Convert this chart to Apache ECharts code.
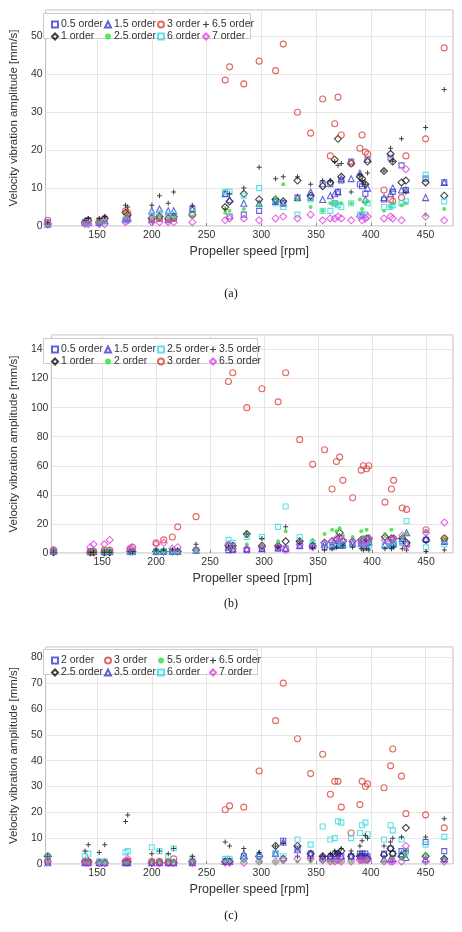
<!DOCTYPE html>
<html><head><meta charset="utf-8">
<script src="https://cdn.jsdelivr.net/npm/echarts@6/dist/echarts.min.js"></script>
<style>html,body{margin:0;background:#fff}#c{width:462px;height:932px}</style>
</head><body><div id="c"></div>
<script>
// propeller speeds shared by all panels [rpm]
const speeds = [105,139,142,152,157,176,178,200,207,215,220,237,267,271,284,298,313,320,333,345,356,363,367,370,373,382,390,392,395,397,412,418,420,428,432,450,467];

// panel (a)
const a_o05 = [1,1,1.5,1,1.5,1.5,2,1.5,2,1.5,2,4.5,8.5,2.5,3,4,6.5,6,7.5,7.5,11,11,6,9,12,17,11,10.5,8.5,17.5,7,18,9,16,9.5,12.5,11.5];
const a_o1 = [0.5,1,1.5,1,2,3.5,3,2,2.5,2,2.5,3,5,6.5,8.5,7,7,6.5,12,8,10.5,11.5,17.5,23,13,16.5,13,12.5,11,17,14.5,19,17,11.5,12,11.5,8];
const a_o15 = [0.5,1,1,1,1.5,2,2,4,4.5,4,4,4.5,8.5,7,6,6,6.5,6,7.5,9,7,8,8.5,9,12.5,12.5,14,3,7,10,7.5,8.5,10,9.5,9.5,7.5,11.5];
const a_o25 = [0.5,0.5,1,1,1,2.5,3,1.5,2,1.5,2,2.5,3.5,4,4.5,5.5,7.5,11,7,5,4,6,6,6,6,6,7,4.5,6,6.5,4,5,6,5.5,6,3,4.5];
const a_o3 = [1.5,1,1.5,1.5,2,4,3.5,2,2,2,2,3,38.5,42,37.5,43.5,41,48,30,24.5,33.5,18.5,27,34,24,16.5,20.5,24,19.5,19,9.5,7,6.5,7.5,18.5,23,47];
const a_o6 = [0.5,1,1,1,1,1.5,1.5,3,3.5,3,3,3.5,9,9,8,10,6,5,3,7,4,4,6,5.5,5,6,3,3,3,6,5,5,5.5,6,6.5,13.5,6.5];
const a_o65 = [1,1.5,2,2,2.5,5.5,5,5.5,8,6,9,5.5,4.5,8.5,10,15.5,12.5,13,13,11,12,12,17,16,16.5,9,13.5,12,11,14,14.5,20.5,17,23,9,26,36];
const a_o7 = [0.5,0.5,0.5,0.5,0.5,1,1.5,1,1,1,1,1,1.5,2,2,1.5,2,2.5,2,3,1.5,2,2,2.5,2,1.5,2.5,1.5,2,2.5,2,2.5,2,1.5,15,2.5,1.5];

// panel (b)
const b_o05 = [1,0.5,0.5,0.5,0.5,1,1,1,1,1,1,2,2,2,2,3,3,3,5,5,4,4,5,5,5,6,6,5,6,7,5,5,6,8,6,9,8];
const b_o1 = [0.5,0.5,0.5,0.5,0.5,1,1,1,1,1,1,2,5,5,13,5,5,8,8,5,7,8,9,14,8,8,9,9,10,10,11,10,10,10,7,9,10];
const b_o15 = [1,1,1,1,1,1,1,1,1,1,1,2,4,3,3,3,4,3,5,5,6,6,7,7,6,7,7,7,8,8,6,6,7,10,14,10,8];
const b_o2 = [1,1,1,1,1,2,2,2,2,2,2,2,4,4,6,5,8,15,8,9,13,16,15,17,12,11,15,11,16,8,13,16,9,11,13,15,10];
const b_o25 = [1,1,1,1,1,1,1,1,1,1,1,2,9,7,11,11,18,32,11,7,6,5,6,7,6,6,6,5,4,5,5,5,6,7,22,4,6];
const b_o3 = [2,1,1,2,2,3,4,7,9,11,18,25,118,124,100,113,104,124,78,61,71,44,63,66,50,38,57,60,58,60,35,44,50,31,30,16,10];
const b_o35 = [0.5,0.5,0.5,0.5,0.5,1,1,2,2,2,2,6,4,5,13,10,4,18,8,4,2,3,4,12,5,4,3,2,3,2,3,3,4,3,2,1,2];
const b_o65 = [2,4,6,6,9,3,4,6,7,3,4,2,6,3,3,4,4,2,6,4,7,8,10,10,9,8,7,6,9,10,9,9,10,12,5,14,21];

// panel (c)
const c_o2 = [1,0.5,0.5,0.5,0.5,0.5,0.5,0.5,0.5,0.5,0.5,0.5,1,1,3,3,4,9,6,4,2,2,3,4,3,3,4,4,4,3,4,6,4,5,5,8.5,5];
const c_o25 = [3,1,1,0.5,0.5,1,1,0.5,0.5,0.5,0.5,1,1,1,2,3,7,2,7,4,3,3,4,4,5,3,3,3,2.5,2,3.5,6,4,3,14,3,2];
const c_o3 = [1,1,1,0.5,0.5,1,1,1,1,1,2,1,21,22.5,22,36,55.5,70,48.5,35,42.5,27,32,32,22,12,23,32,30,31,29.5,38,44.5,34,19.5,19,14];
const c_o35 = [0.5,0.5,0.5,0.5,0.5,0.5,0.5,0.5,0.5,0.5,0.5,0.5,1,1,4,4,4,8.5,5.5,4,3,3,3,4,3,3,3,3,3,3,2,2,2,4,2.5,2,2];
const c_o55 = [0.5,0.5,0.5,0.5,0.5,0.5,0.5,1,1,1,1,1,1,1,1,1,1,1,1,1,1,1,1,1,1,1,1,1,1,2,1,2,2,2,3,4,2];
const c_o6 = [3,3,4,1,1,4.5,5,6.5,5,3,6,2,2,2,2,3,4,3,9.5,7.5,14.5,9.5,10,16.5,16,10,12,15,16,11.5,9.5,15,13,9.5,5,7.5,10.5];
const c_o65 = [3,5,7.5,4.5,7.5,16.5,19,4,5,4,6,3,8.5,7,6,4.5,7,8,3,2,3,4,5,4,6,5,7,9,11,10,7,8.5,10,10.5,5,10.5,17.5];
const c_o7 = [1,1,0.5,0.5,0.5,1,2,0.5,0.5,0.5,0.5,0.5,0.5,0.5,0.5,1,1,1.5,2,2,1.5,1,1,1.5,1,1,1.5,1.5,1.5,1.5,1,1,1,1,7,1,1];

const xTicks = [150,200,250,300,350,400,450];

const BLUE = '#3b3bd0', BLACK = '#111', RED = '#d9433d', GREEN = '#2fe02f', CYAN = '#3ad8e0', MAG = '#e040e0';
const PLUS = 'path://M4 0H6V4H10V6H6V10H4V6H0V4H4Z';
const sty = {
  sq: (c) => ({symbol: 'rect', size: 5, hollow: true, color: c}),
  di: (c) => ({symbol: 'diamond', size: 7, hollow: true, color: c}),
  tri: (c) => ({symbol: 'triangle', size: 6, hollow: true, color: c}),
  ci: (c) => ({symbol: 'circle', size: 6, hollow: true, color: c}),
  dot: (c) => ({symbol: 'circle', size: 4, hollow: false, color: c}),
  plus: (c) => ({symbol: PLUS, size: 5, hollow: false, color: c})
};

const panels = [
  {top: 10, height: 216, max: 57, interval: 10, legTop: 13, legW: 207, cols: [46, 99, 152, 197],
   items: [
    ['0.5 order', a_o05, sty.sq(BLUE)], ['1 order', a_o1, sty.di(BLACK)],
    ['1.5 order', a_o15, sty.tri(BLUE)], ['2.5 order', a_o25, sty.dot(GREEN)],
    ['3 order', a_o3, sty.ci(RED)], ['6 order', a_o6, sty.sq(CYAN)],
    ['6.5 order', a_o65, sty.plus(BLACK)], ['7 order', a_o7, sty.di(MAG)]]},
  {top: 335, height: 218, max: 150, interval: 20, legTop: 338, legW: 214, cols: [46, 99, 152, 204],
   items: [
    ['0.5 order', b_o05, sty.sq(BLUE)], ['1 order', b_o1, sty.di(BLACK)],
    ['1.5 order', b_o15, sty.tri(BLUE)], ['2 order', b_o2, sty.dot(GREEN)],
    ['2.5 order', b_o25, sty.sq(CYAN)], ['3 order', b_o3, sty.ci(RED)],
    ['3.5 order', b_o35, sty.plus(BLACK)], ['6.5 order', b_o65, sty.di(MAG)]]},
  {top: 647, height: 217, max: 84, interval: 10, legTop: 649, legW: 214, cols: [46, 99, 152, 204],
   items: [
    ['2 order', c_o2, sty.sq(BLUE)], ['2.5 order', c_o25, sty.di(BLACK)],
    ['3 order', c_o3, sty.ci(RED)], ['3.5 order', c_o35, sty.tri(BLUE)],
    ['5.5 order', c_o55, sty.dot(GREEN)], ['6 order', c_o6, sty.sq(CYAN)],
    ['6.5 order', c_o65, sty.plus(BLACK)], ['7 order', c_o7, sty.di(MAG)]]}
];

const grid = [], xAxis = [], yAxis = [], series = [], legend = [], graphic = [];
const caps = ['(a)', '(b)', '(c)'], capY = [288, 598, 910];

panels.forEach((p, i) => {
  grid.push({left: 41, top: p.top, width: 412, height: p.height, show: true, borderColor: '#bbb', borderWidth: 1});
  xAxis.push({
    gridIndex: i, type: 'value', min: 103, max: 475,
    name: 'Propeller speed [rpm]', nameLocation: 'middle', nameGap: 19,
    nameTextStyle: {fontSize: 12.5, color: '#333', fontFamily: 'Arial'},
    axisLine: {show: false},
    axisTick: {show: true, customValues: xTicks, length: 3, inside: true, lineStyle: {color: '#888'}},
    axisLabel: {customValues: xTicks, fontSize: 10.5, color: '#333', margin: 4, fontFamily: 'Arial'},
    splitLine: {show: true, lineStyle: {color: '#e6e6e6'}}
  });
  yAxis.push({
    gridIndex: i, type: 'value', min: 0, max: p.max, interval: p.interval,
    name: 'Velocity vibration amplitude [mm/s]', nameLocation: 'middle', nameGap: 22,
    nameTextStyle: {fontSize: 11.5, color: '#333', fontFamily: 'Arial'},
    axisLine: {show: false},
    axisTick: {show: false},
    axisLabel: {fontSize: 10.5, color: '#333', margin: 3, fontFamily: 'Arial',
      showMaxLabel: p.max % p.interval === 0},
    splitLine: {show: true, lineStyle: {color: '#e6e6e6'}}
  });
  graphic.push({type: 'rect', left: 43, top: p.legTop, shape: {width: p.legW, height: 25},
    style: {fill: '#fff', stroke: '#ccc', lineWidth: 1}, z: 50});
  graphic.push({type: 'text', left: 'center', top: capY[i],
    style: {text: caps[i], font: '12px "Liberation Serif"', fill: '#111'}, z: 50});
  p.items.forEach(([name, vals, s], k) => {
    series.push({
      name: name + '#' + i, type: 'scatter', xAxisIndex: i, yAxisIndex: i,
      symbol: s.symbol, symbolSize: s.size,
      itemStyle: s.hollow ? {color: 'rgba(0,0,0,0)', borderColor: s.color, borderWidth: 1.1}
                          : {color: s.color},
      data: speeds.map((x, j) => [x, vals[j]]),
      z: 10
    });
  });
  // one legend per column, two rows each
  for (let c = 0; c < 4; c++) {
    legend.push({
      orient: 'vertical', left: p.cols[c], top: p.legTop + 1, itemGap: 1,
      itemWidth: 6, itemHeight: 6, z: 60, selectedMode: false,
      textStyle: {fontSize: 10.5, color: '#333', fontFamily: 'Arial', padding: [0, 0, 0, -2]},
      formatter: (n) => n.split('#')[0],
      data: [p.items[c * 2][0] + '#' + i, p.items[c * 2 + 1][0] + '#' + i]
    });
  }
});

const chart = echarts.init(document.getElementById('c'));
chart.setOption({animation: false, grid, xAxis, yAxis, series, legend, graphic});
</script></body></html>
